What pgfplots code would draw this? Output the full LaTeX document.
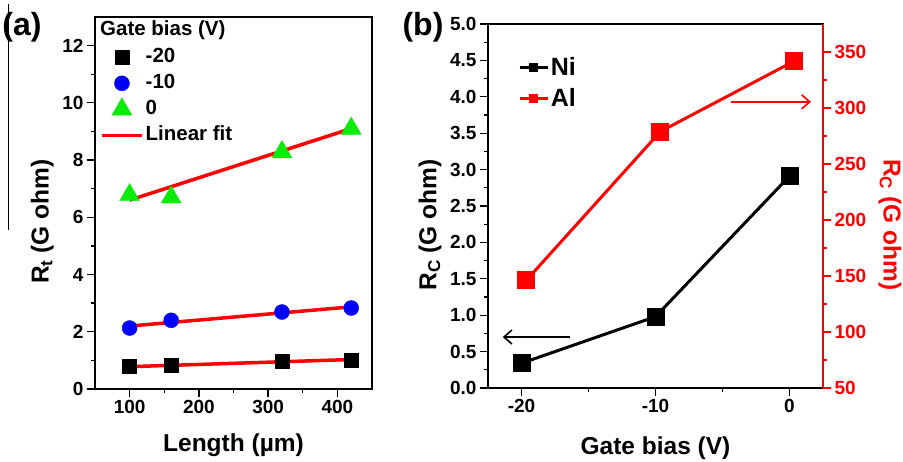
\documentclass[border=0pt]{standalone}
\usepackage{fontspec}
\setmainfont{Liberation Sans}
\usepackage{pgfplots}
\pgfplotsset{compat=1.18}
\usetikzlibrary{arrows.meta}
\definecolor{cgreen}{RGB}{10,235,10}
\newcommand\fs[1]{\fontsize{#1}{#1}\selectfont\bfseries}

\pgfplotsset{
  every axis/.append style={
    scale only axis,
    axis line style={line width=1.3pt},
    tick align=outside,
    major tick length=8pt, minor tick length=4pt,
    tick style={line width=1.3pt, black},
    tick label style={font=\fs{19}},
    /pgf/number format/assume math mode=true,
    label style={font=\fs{24.5}},
  }
}

\begin{document}
\begin{tikzpicture}
\path[use as bounding box] (0,0) rectangle (903pt,462pt);

% panel (a)
\begin{axis}[
  at={(95pt,73pt)}, anchor=south west,
  width=277pt, height=372pt,
  xmin=50, xmax=450, ymin=0, ymax=13,
  xtick={100,200,300,400}, ytick={0,2,...,12},
  minor x tick num=1, minor y tick num=1,
  tick pos=left,
  xlabel={Length (µm)},
  ylabel={R\textsubscript{t} (G ohm)},
  xlabel style={at={(axis description cs:0.5,-0.15)}, anchor=center},
  ylabel style={at={(axis description cs:-0.19,0.45)}, anchor=center},
  legend style={at={(axis description cs:0.018,0.923)}, anchor=north west,
    draw=none, fill=none, inner sep=0pt, row sep=3pt,
    font=\fs{20.5},
    nodes={inner sep=2pt, text height=15pt, text depth=4pt}},
  legend cell align=left,
  legend image code/.code={\draw[mark repeat=2,mark phase=2,#1] plot coordinates {(0pt,0pt)(20pt,0pt)(40pt,0pt)};},
]
\addplot[only marks, mark=square*, mark size=7pt, black] coordinates {(100,0.78) (160,0.84) (320,0.96) (420,1.02)};
\addlegendentry{-20}
\addplot[only marks, mark=*, mark size=7.5pt, blue] coordinates {(100,2.13) (160,2.40) (320,2.69) (420,2.83)};
\addlegendentry{-10}
\addplot[only marks, mark=triangle*, mark size=11.5pt, cgreen] coordinates {(100,6.78) (160,6.70) (320,8.28) (420,9.10)};
\addlegendentry{0}
\addplot[red, line width=3.5pt, no marks] coordinates {(100,6.6) (420,9.1)};
\addlegendentry{Linear fit}
\addplot[red, line width=3.5pt, no marks, forget plot] coordinates {(100,2.2) (420,2.87)};
\addplot[red, line width=3.5pt, no marks, forget plot] coordinates {(100,0.78) (420,1.03)};
\node[anchor=west, font=\fs{20.5}, inner sep=0pt] at (axis description cs:0.018,0.965) {Gate bias (V)};
\end{axis}

% panel (b), left axis
\begin{axis}[
  at={(488pt,74pt)}, anchor=south west,
  width=335pt, height=364pt,
  xmin=-22.5, xmax=2.5, ymin=0, ymax=5,
  xtick={-20,-10,0}, ytick={0,0.5,...,5},
  minor x tick num=1, minor y tick num=1,
  tick pos=left,
  yticklabel style={/pgf/number format/.cd, fixed, fixed zerofill, precision=1},
  xlabel={Gate bias (V)},
  ylabel={R\textsubscript{C} (G ohm)},
  xlabel style={at={(axis description cs:0.5,-0.165)}, anchor=center},
  ylabel style={at={(axis description cs:-0.173,0.448)}, anchor=center},
  legend style={at={(axis description cs:0.09,0.918)}, anchor=north west,
    draw=none, fill=none, inner sep=0pt, row sep=4pt,
    font=\fs{25},
    nodes={inner sep=2pt, text height=19pt, text depth=4pt}},
  legend cell align=left,
  legend image code/.code={\draw[mark repeat=2,mark phase=2,#1,line width=2.5pt,mark size=3pt] plot coordinates {(0pt,0pt)(14pt,0pt)(28pt,0pt)};},
]
\addplot[black, line width=3pt, mark=square*, mark size=7.5pt] coordinates {(-20,0.34) (-10,0.98) (0,2.91)};
\addlegendentry{Ni}
\addlegendimage{red, line width=3pt, mark=square*, mark size=7.5pt}
\addlegendentry{Al}
\draw[black, line width=1.6pt, -{Straight Barb[length=8pt,width=14pt]}] (axis cs:-16.4,0.70) -- (axis cs:-21.4,0.70);
\end{axis}

% panel (b), right axis
\begin{axis}[
  at={(488pt,74pt)}, anchor=south west,
  width=335pt, height=364pt,
  xmin=-22.5, xmax=2.5, ymin=50, ymax=375,
  ytick={50,100,...,350},
  minor y tick num=1,
  axis y line*=right, axis x line=none,
  y axis line style={red},
  tick style={red},
  yticklabel style={red},
  ylabel={R\textsubscript{C} (G ohm)},
  every axis y label/.style={at={(axis description cs:1.2,0.448)}, anchor=center, rotate=-90, red, font=\fs{24.5}},
]
\addplot[red, line width=3pt, mark=square*, mark size=7.5pt] coordinates {(-19.65,146) (-9.63,279) (0.37,342)};
\draw[red, line width=1.6pt, -{Straight Barb[length=8pt,width=14pt]}] (axis cs:-4.36,305.5) -- (axis cs:1.6,305.5);
\end{axis}

\node[font=\fs{32}] at (22pt,435pt) {(a)};
\node[font=\fs{32}] at (423pt,435pt) {(b)};
\draw[line width=0.8pt] (8pt,458pt) -- (8pt,232pt);
\end{tikzpicture}
\end{document}
